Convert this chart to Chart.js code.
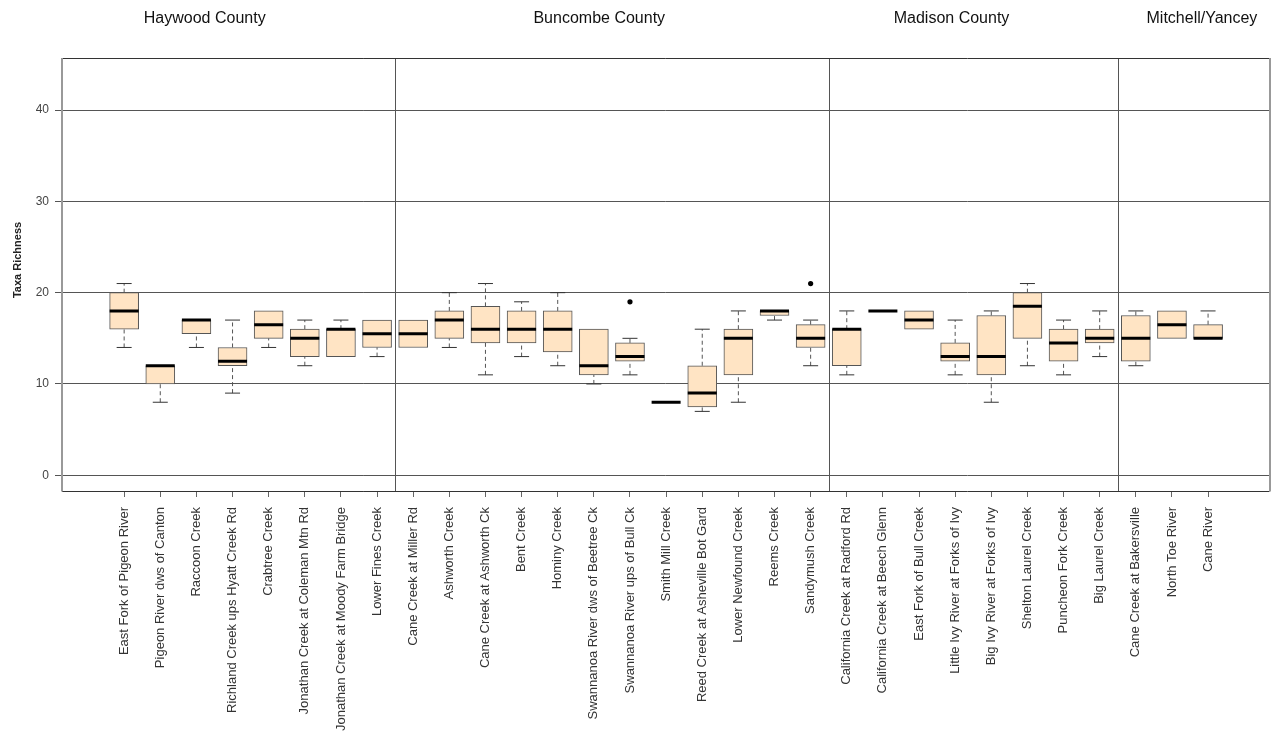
<!DOCTYPE html>
<html>
<head>
<meta charset="utf-8">
<script src="https://cdn.jsdelivr.net/npm/chart.js@4.4.1/dist/chart.umd.min.js"></script>
<style>
  html, body { margin: 0; padding: 0; background: #fff; }
  #wrap { width: 1276px; height: 734px; }
</style>
</head>
<body>
<div id="wrap"><canvas id="c" width="1276" height="734"></canvas></div>
<script>
const categories = [
  "East Fork of Pigeon River", "Pigeon River dws of Canton", "Raccoon Creek",
  "Richland Creek ups Hyatt Creek Rd", "Crabtree Creek", "Jonathan Creek at Coleman Mtn Rd",
  "Jonathan Creek at Moody Farm Bridge", "Lower Fines Creek",
  "Cane Creek at Miller Rd", "Ashworth Creek", "Cane Creek at Ashworth Ck", "Bent Creek",
  "Hominy Creek", "Swannanoa River dws of Beetree Ck", "Swannanoa River ups of Bull Ck",
  "Smith Mill Creek", "Reed Creek at Asheville Bot Gard", "Lower Newfound Creek",
  "Reems Creek", "Sandymush Creek",
  "California Creek at Radford Rd", "California Creek at Beech Glenn", "East Fork of Bull Creek",
  "Little Ivy River at Forks of Ivy", "Big Ivy River at Forks of Ivy", "Shelton Laurel Creek",
  "Puncheon Fork Creek", "Big Laurel Creek",
  "Cane Creek at Bakersville", "North Toe River", "Cane River"
];
const whiskerLow  = [14, 8, 14, 9, 14, 12, 13, 13,   14, 14, 11, 13, 12, 10, 11, 8, 7, 8, 17, 12,   11, 18, 16, 11, 8, 12, 11, 13,   12, 15, 15];
const quartile1   = [16, 10, 15.5, 12, 15, 13, 13, 14,   14, 15, 14.5, 14.5, 13.5, 11, 12.5, 8, 7.5, 11, 17.5, 14,   12, 18, 16, 12.5, 11, 15, 12.5, 14.5,   12.5, 15, 15];
const medians     = [18, 12, 17, 12.5, 16.5, 15, 16, 15.5,   15.5, 17, 16, 16, 16, 12, 13, 8, 9, 15, 18, 15,   16, 18, 17, 13, 13, 18.5, 14.5, 15,   15, 16.5, 15];
const quartile3   = [20, 12, 17, 14, 18, 16, 16, 17,   17, 18, 18.5, 18, 18, 16, 14.5, 8, 12, 16, 18, 16.5,   16, 18, 18, 14.5, 17.5, 20, 16, 16,   17.5, 18, 16.5];
const whiskerHigh = [21, 12, 17, 17, 18, 17, 17, 17,   17, 20, 21, 19, 20, 16, 15, 8, 16, 18, 18, 17,   18, 18, 18, 17, 18, 21, 17, 18,   18, 18, 18];
const outlierCategory = [14, 19];
const outlierValues   = [19, 21];
const yTickValues = [0, 10, 20, 30, 40];
const countyNames = ["Haywood County", "Buncombe County", "Madison County", "Mitchell/Yancey"];

// layout constants (not data)
const countyBreaks = [7.5, 19.5, 27.5];
const countyLabelPos = [2.23, 13.15, 22.9, 29.83];
const FONT = "'Liberation Sans', Arial, sans-serif";

const boxData = categories.map((c, i) => ({ x: i, y: [quartile1[i], quartile3[i]] }));
const medianData = categories.map((c, i) => ({ x: i, y: medians[i] }));
const capData = [];
const whiskerData = [];
categories.forEach((c, i) => {
  if (whiskerLow[i] < quartile1[i]) {
    whiskerData.push({ x: i, y: whiskerLow[i] }, { x: i, y: quartile1[i] }, { x: i, y: null });
    capData.push({ x: i, y: whiskerLow[i] });
  }
  if (whiskerHigh[i] > quartile3[i]) {
    whiskerData.push({ x: i, y: quartile3[i] }, { x: i, y: whiskerHigh[i] }, { x: i, y: null });
    capData.push({ x: i, y: whiskerHigh[i] });
  }
});
const outlierData = outlierCategory.map((c, k) => ({ x: c, y: outlierValues[k] }));

const decorPlugin = {
  id: 'decor',
  afterDatasetsDraw(chart) {
    const ctx = chart.ctx;
    const xs = chart.scales.x;
    const ca = chart.chartArea;
    ctx.save();
    // county separators
    ctx.strokeStyle = '#555';
    ctx.lineWidth = 1;
    countyBreaks.forEach(b => {
      const px = Math.round(xs.getPixelForValue(b)) + 0.5;
      ctx.beginPath();
      ctx.moveTo(px, ca.top);
      ctx.lineTo(px, ca.bottom);
      ctx.stroke();
    });
    // plot frame
    ctx.strokeStyle = '#333';
    ctx.lineWidth = 1;
    ctx.beginPath();
    ctx.moveTo(ca.left, Math.round(ca.top) + 0.5);
    ctx.lineTo(ca.right, Math.round(ca.top) + 0.5);
    ctx.moveTo(ca.left, Math.round(ca.bottom) + 0.5);
    ctx.lineTo(ca.right, Math.round(ca.bottom) + 0.5);
    ctx.stroke();
    ctx.strokeStyle = '#999';
    ctx.lineWidth = 2;
    ctx.beginPath();
    ctx.moveTo(Math.round(ca.left), ca.top);
    ctx.lineTo(Math.round(ca.left), ca.bottom + 0.5);
    ctx.moveTo(Math.round(ca.right), ca.top);
    ctx.lineTo(Math.round(ca.right), ca.bottom + 0.5);
    ctx.stroke();
    // county titles
    ctx.fillStyle = '#111';
    ctx.font = '16px ' + FONT;
    ctx.textAlign = 'center';
    ctx.textBaseline = 'middle';
    countyNames.forEach((n, k) => {
      ctx.fillText(n, xs.getPixelForValue(countyLabelPos[k]), 19);
    });
    // y axis title
    ctx.translate(18, 260);
    ctx.rotate(-Math.PI / 2);
    ctx.font = 'bold 11px ' + FONT;
    ctx.fillStyle = '#222';
    ctx.fillText('Taxa Richness', 0, 0);
    ctx.restore();
  }
};

new Chart(document.getElementById('c'), {
  type: 'bar',
  data: {
    datasets: [
      {
        type: 'line', label: 'whiskers', data: whiskerData, order: 4,
        borderColor: '#555', borderWidth: 1, borderDash: [4, 3],
        pointRadius: 0, spanGaps: false, fill: false, tension: 0
      },
      {
        type: 'bar', label: 'boxes', data: boxData, order: 3,
        backgroundColor: '#FFE4C4', borderColor: '#555', borderWidth: 1,
        borderSkipped: false, barThickness: 29, grouped: false
      },
      {
        type: 'line', label: 'caps', data: capData, order: 2, showLine: false,
        pointStyle: 'line', pointRadius: 7.5, pointBorderWidth: 1,
        pointBorderColor: '#333', pointBackgroundColor: '#333'
      },
      {
        type: 'line', label: 'medians', data: medianData, order: 1, showLine: false,
        pointStyle: 'line', pointRadius: 14.5, pointBorderWidth: 3,
        pointBorderColor: '#000', pointBackgroundColor: '#000'
      },
      {
        type: 'line', label: 'outliers', data: outlierData, order: 0, showLine: false,
        pointStyle: 'circle', pointRadius: 2.6, pointBorderWidth: 0,
        pointBackgroundColor: '#000', pointBorderColor: '#000'
      }
    ]
  },
  options: {
    responsive: false,
    animation: false,
    layout: { autoPadding: false, padding: { top: 58, right: 6.5, left: 0, bottom: 0 } },
    plugins: { legend: { display: false }, tooltip: { enabled: false } },
    scales: {
      x: {
        type: 'linear',
        offset: false,
        min: -1.72,
        max: 31.7,
        afterBuildTicks: (scale) => { scale.ticks = categories.map((c, i) => ({ value: i })); },
        afterFit: (scale) => { scale.height = 243; scale.paddingLeft = 0; scale.paddingRight = 0; },
        grid: { offset: false, drawOnChartArea: false, drawTicks: true, tickLength: 6, color: '#666' },
        border: { display: false },
        ticks: {
          autoSkip: false, minRotation: 90, maxRotation: 90, padding: 10,
          color: '#333', font: { family: FONT, size: 13 },
          callback: (v) => categories[v]
        }
      },
      y: {
        min: -1.72,
        max: 45.7,
        z: 1,
        afterBuildTicks: (scale) => { scale.ticks = yTickValues.map(v => ({ value: v })); },
        afterFit: (scale) => { scale.width = 62; scale.paddingLeft = 0; scale.paddingRight = 0; },
        grid: { drawOnChartArea: true, drawTicks: true, tickLength: 7, color: '#555' },
        border: { display: false },
        ticks: { padding: 6, color: '#444', font: { family: FONT, size: 12 } }
      }
    }
  },
  plugins: [decorPlugin]
});
</script>
</body>
</html>
